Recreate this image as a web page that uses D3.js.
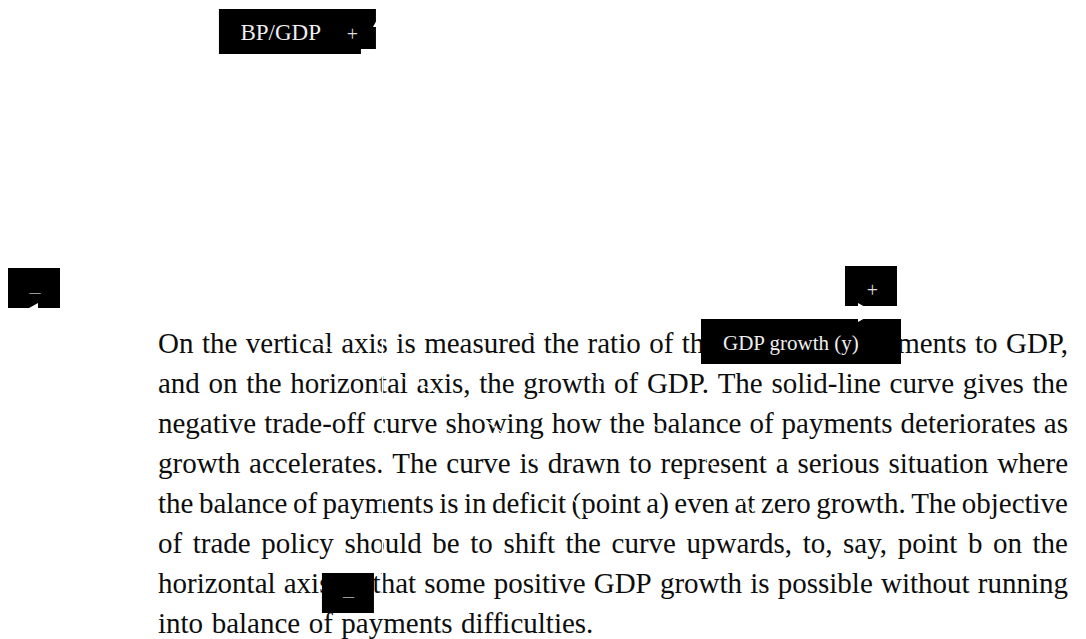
<!DOCTYPE html>
<html>
<head>
<meta charset="utf-8">
<script src="https://cdn.jsdelivr.net/npm/d3@7"></script>
<style>
  body { margin: 0; background: #fff; }
  svg { display: block; }
</style>
</head>
<body>
<svg id="chart"></svg>
<script>
// Caption text under the figure, one entry per printed line
const paragraphLines = [
  "On the vertical axis is measured the ratio of the balance of payments to GDP,",
  "and on the horizontal axis, the growth of GDP. The solid-line curve gives the",
  "negative trade-off curve showing how the balance of payments deteriorates as",
  "growth accelerates. The curve is drawn to represent a serious situation where",
  "the balance of payments is in deficit (point a) even at zero growth. The objective",
  "of trade policy should be to shift the curve upwards, to, say, point b on the",
  "horizontal axis so that some positive GDP growth is possible without running",
  "into balance of payments difficulties."
];

const yAxisLabel = "BP/GDP";
const xAxisLabel = "GDP growth (y)";
const plusSign = "+";
const minusSign = "–";

// axis extents (growth on x, BP/GDP on y)
const growthDomain = [-4.19, 5.71];
const bpDomain = [-5, 5];

// solid trade-off curve, passes through point a (0, -0.95)
const solidCurve = [
  [-4.0, 1.2], [-3.0, 0.75], [-2.0, 0.25], [-1.0, -0.35], [0, -0.95],
  [0.25, -1.08], [1.0, -1.6], [1.85, -2.55], [2.25, -3.15], [2.7, -4.0]
];

// shifted (dashed) curve, passes through point b (1.2, 0)
const dashedCurve = [
  [-2.5, 1.9], [-1.5, 1.4], [-0.5, 0.85], [0.5, 0.4], [1.2, 0],
  [2.0, -0.6], [3.2, -1.9], [3.8, -2.5], [4.3, -3.3]
];

const width = 1086, height = 639;

const svg = d3.select('#chart')
  .attr('width', width)
  .attr('height', height);

const xScale = d3.scaleLinear().domain(growthDomain).range([21, 875]);
const yScale = d3.scaleLinear().domain(bpDomain).range([615, 10]);

const x0 = xScale(0), y0 = yScale(0);
const [xL, xR] = xScale.range();
const yT = yScale.range()[1], yB = yScale.range()[0];

// --- caption paragraph, justified word by word ---
const textLeft = 158, textRight = 1068;
const firstBaseline = 353, lineStep = 40;
const para = svg.append('g')
  .attr('font-family', '"Liberation Serif", "Times New Roman", serif')
  .attr('font-size', 29)
  .attr('fill', '#0d0d0d');

paragraphLines.forEach((line, i) => {
  const words = line.split(' ');
  const t = para.append('text').attr('y', firstBaseline + i * lineStep);
  const spans = words.map(w => t.append('tspan').text(w));
  const widths = spans.map(s => s.node().getComputedTextLength());
  const total = d3.sum(widths);
  const isLast = i === paragraphLines.length - 1;
  const gap = isLast ? 8.5 : (textRight - textLeft - total) / (words.length - 1);
  let x = textLeft;
  spans.forEach((s, j) => {
    s.attr('x', x);
    x += widths[j] + gap;
  });
});

// --- curves (drawn in white, as in the figure) ---
const line = d3.line()
  .x(d => xScale(d[0]))
  .y(d => yScale(d[1]))
  .curve(d3.curveMonotoneX);

svg.append('path')
  .datum(solidCurve)
  .attr('d', line)
  .attr('fill', 'none')
  .attr('stroke', '#fff')
  .attr('stroke-width', 1.2);

svg.append('path')
  .datum(dashedCurve)
  .attr('d', line)
  .attr('fill', 'none')
  .attr('stroke', '#fff')
  .attr('stroke-width', 1.2)
  .attr('stroke-dasharray', '6,4');

// --- black label boxes ---
const boxes = svg.append('g').attr('fill', '#000');
boxes.append('path')
  .attr('d', `M${x0 - 163.5},${yT - 1} H${x0 - 6.5} V${yT + 39} H${x0 - 21.5} V${yT + 44} H${x0 - 163.5} Z`);
boxes.append('rect')
  .attr('x', xL - 13).attr('y', y0 - 44.5).attr('width', 52).attr('height', 40);
boxes.append('rect')
  .attr('x', xR - 30).attr('y', y0 - 46.5).attr('width', 52).attr('height', 40);
boxes.append('rect')
  .attr('x', xR - 174).attr('y', y0 + 6.5).attr('width', 200).attr('height', 45);
boxes.append('rect')
  .attr('x', x0 - 60.5).attr('y', yB - 42).attr('width', 52).attr('height', 40);

const labels = svg.append('g')
  .attr('font-family', '"Liberation Serif", "Times New Roman", serif');

labels.append('text')
  .attr('x', x0 - 142).attr('y', yT + 30)
  .attr('font-size', 23).attr('fill', '#eee')
  .text(yAxisLabel);
labels.append('text')
  .attr('x', x0 - 30).attr('y', yT + 31)
  .attr('text-anchor', 'middle')
  .attr('font-size', 20).attr('fill', '#ddd')
  .text(plusSign);
labels.append('text')
  .attr('x', xR - 2.5).attr('y', y0 - 16)
  .attr('text-anchor', 'middle')
  .attr('font-size', 20).attr('fill', '#ddd')
  .text(plusSign);
labels.append('text')
  .attr('x', xR - 152).attr('y', y0 + 37.5)
  .attr('font-size', 21).attr('fill', '#eee')
  .text(xAxisLabel);
labels.append('text')
  .attr('x', xL + 14).attr('y', y0 - 14)
  .attr('text-anchor', 'middle')
  .attr('font-size', 22).attr('fill', '#999')
  .text(minusSign);
labels.append('text')
  .attr('x', x0 - 34).attr('y', yB - 12)
  .attr('text-anchor', 'middle')
  .attr('font-size', 22).attr('fill', '#999')
  .text(minusSign);

// --- axes with arrowheads (white) ---
const axes = svg.append('g').attr('stroke', '#fff').attr('fill', '#fff');
axes.append('line')
  .attr('x1', xL + 16).attr('x2', xR - 16)
  .attr('y1', y0).attr('y2', y0)
  .attr('stroke-width', 1.5);
axes.append('line')
  .attr('x1', x0).attr('x2', x0)
  .attr('y1', yT + 16).attr('y2', yB)
  .attr('stroke-width', 1.5);

const head = 17, half = 9.5;
axes.append('polygon')
  .attr('points', [[x0, yT], [x0 - half, yT + head], [x0 + half, yT + head]].join(' '))
  .attr('stroke', 'none');
axes.append('polygon')
  .attr('points', [[xL, y0], [xL + head, y0 - half], [xL + head, y0 + half]].join(' '))
  .attr('stroke', 'none');
axes.append('polygon')
  .attr('points', [[xR, y0], [xR - head, y0 - half], [xR - head, y0 + half]].join(' '))
  .attr('stroke', 'none');
</script>
</body>
</html>
